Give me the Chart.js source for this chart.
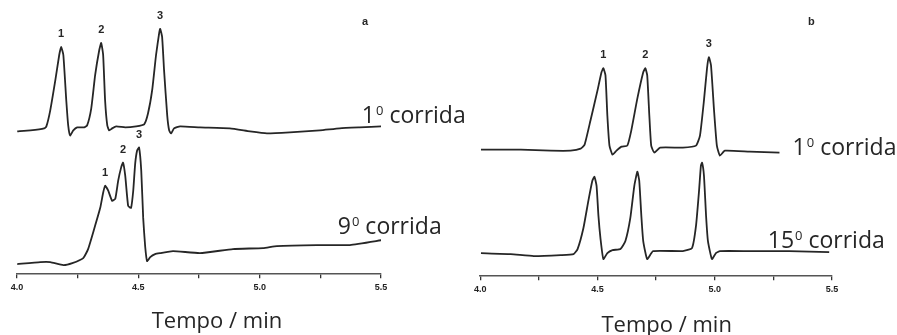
<!DOCTYPE html>
<html lang="pt">
<head>
  <meta charset="UTF-8">
  <title>Cromatogramas - corridas</title>
  <script src="https://cdn.jsdelivr.net/npm/chart.js"></script>
  <style>
    body { margin: 0; background: #fff; }
    .wrap { position: relative; width: 897px; height: 335px; overflow: hidden; }
    #chart-a { position: absolute; left: 0; top: 0; }
    #chart-b { position: absolute; left: 470px; top: 0; }
  </style>
</head>
<body>
<div class="wrap">
  <canvas id="chart-a" width="470" height="335"></canvas>
  <canvas id="chart-b" width="427" height="335"></canvas>
</div>
<script>
// x axis ticks (min)
const timeTicks = [4.0, 4.5, 5.0, 5.5];

// panel a, 1a corrida
const timeA1 = [4.001, 4.055, 4.112, 4.121, 4.137, 4.158, 4.174, 4.182, 4.191, 4.203, 4.211, 4.219, 4.232, 4.248, 4.277, 4.289, 4.306, 4.322, 4.339, 4.347, 4.355, 4.363, 4.372, 4.380, 4.392, 4.409, 4.446, 4.491, 4.524, 4.540, 4.557, 4.573, 4.586, 4.590, 4.598, 4.606, 4.619, 4.627, 4.635, 4.647, 4.672, 4.754, 4.877, 4.960, 5.030, 5.124, 5.248, 5.330, 5.412, 5.507];
const signalA1 = [142, 143, 145, 147, 163, 193, 218, 226, 218, 173, 148, 138, 143, 146, 146, 148, 165, 198, 223, 230, 218, 173, 148, 143, 145, 147, 146, 147, 149, 160, 183, 218, 240, 244, 236, 203, 158, 143, 140, 145, 147, 146, 145, 142, 140, 141, 143, 145, 146, 147];
const peaksA1 = [4.182, 4.347, 4.590];

// panel a, 9a corrida
const timeA9 = [4.001, 4.096, 4.137, 4.191, 4.228, 4.273, 4.293, 4.318, 4.343, 4.355, 4.363, 4.376, 4.392, 4.405, 4.417, 4.429, 4.437, 4.446, 4.458, 4.470, 4.479, 4.487, 4.495, 4.503, 4.512, 4.520, 4.528, 4.536, 4.549, 4.569, 4.590, 4.643, 4.754, 4.890, 5.014, 5.071, 5.236, 5.372, 5.507];
const signalA9 = [10, 12, 12, 9, 11, 16, 25, 45, 66, 81, 88, 83, 73, 75, 93, 106, 111, 98, 68, 66, 83, 110, 123, 126, 103, 56, 28, 13, 17, 20, 21, 23, 21, 25, 26, 28, 29, 29, 34];
const peaksA9 = [4.363, 4.437, 4.503];

// panel b, 1a corrida
const timeB1 = [4.003, 4.173, 4.300, 4.385, 4.428, 4.445, 4.470, 4.500, 4.517, 4.525, 4.534, 4.542, 4.551, 4.564, 4.581, 4.602, 4.627, 4.644, 4.670, 4.695, 4.704, 4.712, 4.721, 4.729, 4.742, 4.767, 4.864, 4.920, 4.937, 4.954, 4.967, 4.975, 4.984, 4.997, 5.009, 5.022, 5.043, 5.149, 5.276];
const signalB1 = [126, 126, 125, 125, 127, 131, 155, 185, 203, 207, 200, 160, 130, 121, 125, 129, 130, 145, 177, 203, 207, 200, 160, 130, 123, 128, 128, 130, 140, 175, 207, 218, 210, 165, 130, 120, 125, 124, 123];
const peaksB1 = [4.525, 4.704, 4.975];

// panel b, 15a corrida
const timeB15 = [4.003, 4.130, 4.228, 4.343, 4.398, 4.415, 4.440, 4.461, 4.478, 4.487, 4.496, 4.504, 4.513, 4.525, 4.542, 4.564, 4.598, 4.619, 4.640, 4.657, 4.670, 4.678, 4.687, 4.695, 4.712, 4.737, 4.864, 4.903, 4.920, 4.933, 4.941, 4.946, 4.954, 4.963, 4.971, 4.988, 5.005, 5.022, 5.149, 5.318, 5.488];
const signalB15 = [23, 22, 20, 21, 22, 27, 48, 75, 95, 99, 90, 60, 37, 17, 23, 26, 27, 35, 58, 90, 104, 95, 60, 35, 17, 25, 25, 28, 50, 85, 110, 113, 100, 60, 35, 17, 23, 25, 25, 25, 24];
const peaksB15 = [];

const ink = '#262626';

function toPoints(xs, ys) {
  return xs.map((x, i) => ({ x: x, y: ys[i] }));
}

// text drawn on top: peak numbers, run labels, panel letter, axis title
const annotations = {
  id: 'annotations',
  afterDraw(chart, args, opts) {
    const ctx = chart.ctx;
    const xs = chart.scales.x, ys = chart.scales.y;
    ctx.save();
    ctx.fillStyle = ink;

    // peak numbers
    ctx.font = 'bold 11px "Liberation Sans", Arial';
    ctx.textAlign = 'center';
    ctx.textBaseline = 'middle';
    chart.data.datasets.forEach(ds => {
      (ds.peaks || []).forEach((t, k) => {
        const p = ds.data.find(d => d.x === t);
        ctx.fillText(String(k + 1), xs.getPixelForValue(p.x), ys.getPixelForValue(p.y) - 13);
      });
    });

    // panel letter
    ctx.font = 'bold 11px "Liberation Sans", Arial';
    ctx.fillText(opts.letter.text, xs.getPixelForValue(opts.letter.t), ys.getPixelForValue(opts.letter.v));

    // run labels with superscript 0
    ctx.textAlign = 'left';
    ctx.textBaseline = 'alphabetic';
    opts.runs.forEach(r => {
      let x = xs.getPixelForValue(r.t);
      const y = ys.getPixelForValue(r.v);
      ctx.font = '23px "Open Sans"';
      ctx.fillText(r.num, x, y);
      x += ctx.measureText(r.num).width + 1;
      ctx.font = '13px "Open Sans"';
      ctx.fillText('0', x, y - 8);
      x += ctx.measureText('0').width;
      ctx.font = '23px "Open Sans"';
      ctx.fillText(' corrida', x, y);
    });

    // axis title
    ctx.font = '22px "Open Sans"';
    ctx.textAlign = 'center';
    ctx.fillText('Tempo / min', xs.getPixelForValue(opts.titleT), chart.chartArea.bottom + opts.titleDy);
    ctx.restore();
  }
};

function makeChart(id, sets, yMax, pad, opts) {
  return new Chart(document.getElementById(id).getContext('2d'), {
    type: 'line',
    data: {
      datasets: sets.map(s => ({
        data: toPoints(s[0], s[1]),
        peaks: s[2],
        borderColor: ink,
        borderWidth: 1.8,
        pointRadius: 0,
        tension: 0.15,
        fill: false
      }))
    },
    options: {
      responsive: false,
      animation: false,
      devicePixelRatio: 1,
      layout: { padding: pad },
      plugins: { legend: { display: false }, tooltip: { enabled: false }, annotations: opts },
      scales: {
        x: {
          type: 'linear',
          min: 4.0,
          max: 5.5,
          border: { color: '#555', width: 1.6 },
          grid: { drawOnChartArea: false, tickLength: 4, color: '#333', lineWidth: 1.3 },
          ticks: {
            stepSize: 0.25,
            autoSkip: false,
            maxRotation: 0,
            padding: 4,
            color: '#222',
            font: { size: 9, weight: 'bold', family: '"Liberation Sans", Arial' },
            callback: v => timeTicks.includes(v) ? v.toFixed(1) : ''
          }
        },
        y: { display: false, min: 0, max: yMax }
      }
    },
    plugins: [annotations]
  });
}

makeChart('chart-a',
  [[timeA1, signalA1, peaksA1], [timeA9, signalA9, peaksA9]],
  272.7,
  { left: 17, right: 89, top: 0, bottom: 38 },
  {
    letter: { text: 'a', t: 5.434, v: 251 },
    runs: [{ num: '1', t: 5.421, v: 150 }, { num: '9', t: 5.322, v: 40 }],
    titleT: 4.824,
    titleDy: 54
  });

makeChart('chart-b',
  [[timeB1, signalB1, peaksB1], [timeB15, signalB15, peaksB15]],
  275,
  { left: 9, right: 65, top: 0, bottom: 36 },
  {
    letter: { text: 'b', t: 5.412, v: 253 },
    runs: [{ num: '1', t: 5.332, v: 121 }, { num: '15', t: 5.226, v: 28 }],
    titleT: 4.795,
    titleDy: 56
  });
</script>
</body>
</html>
